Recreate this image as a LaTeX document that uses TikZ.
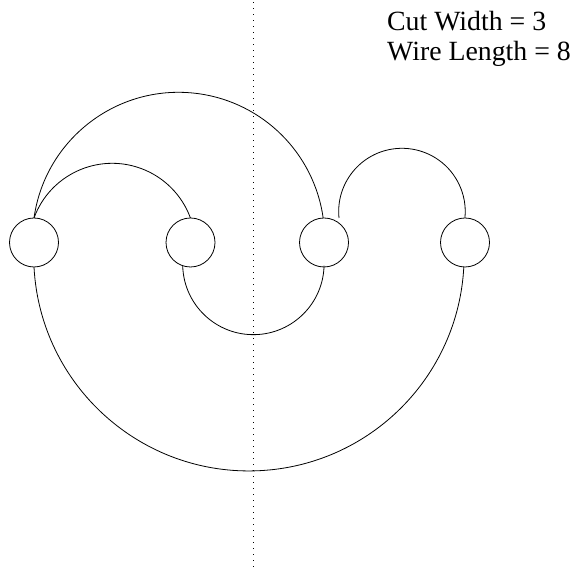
\documentclass[tikz,border=0pt]{standalone}
\usepackage{fontspec}
\setmainfont{Liberation Serif}
\begin{document}
\begin{tikzpicture}[x=1pt,y=1pt,
  pin/.style={circle,draw,minimum size=49pt,inner sep=0pt,outer sep=0pt,line width=0.8pt},
  wire/.style={line width=0.8pt},
  cutline/.style={line width=0.8pt,dash pattern=on 0.9pt off 5.1pt},
  lbl/.style={anchor=base west,inner sep=0pt,font=\fontsize{27.8}{30}\selectfont}]
\useasboundingbox (0,0) rectangle (575,575);
\coordinate (cutTop) at (253.3,572.5);
\coordinate (cutBot) at (253.3,8);
\draw[cutline] (cutTop) -- (cutBot);
\node[pin] (c1) at (34,332.5) {};
\node[pin] (c2) at (190.5,332.5) {};
\node[pin] (c3) at (324,332.5) {};
\node[pin] (c4) at (465,332.5) {};
\coordinate (c3r) at ([xshift=15pt]c3.north);
\coordinate (c2b) at ([xshift=-7.8pt,yshift=1.3pt]c2.south);
\draw[wire] (c1.north) arc[start angle=172,end angle=8,radius=146];
\draw[wire] (c1.north) arc[start angle=159.9,end angle=20.1,radius=83.3];
\draw[wire] (c3r) arc[start angle=185.8,end angle=-5.8,radius=63.3];
\draw[wire] (c2b) arc[start angle=181.4,end angle=358.6,radius=70.7];
\draw[wire] (c1.south) arc[start angle=183,end angle=357,radius=215.2];
\node[lbl] (t1) at (387,544) {Cut Width = 3};
\node[lbl] (t2) at (387,514) {Wire Length = 8};
\end{tikzpicture}
\end{document}
